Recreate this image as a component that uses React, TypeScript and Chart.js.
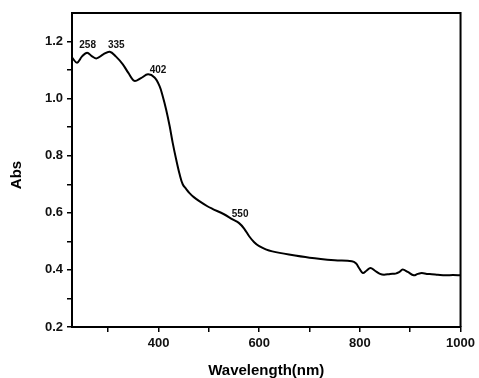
import React, { useEffect, useRef } from 'react';
import { Chart, registerables } from 'chart.js';

Chart.register(...registerables);

const wavelengths = [
  228, 238, 248, 258, 268, 277, 290, 303, 315, 329, 340, 352, 365, 379, 392, 402, 408, 415, 422, 428,
  435, 442, 448, 455, 461, 470, 481, 497, 507, 530, 547, 560, 570, 580, 590, 600, 613, 626, 659, 700,
  750, 784, 792, 799, 806, 813, 821, 830, 840, 848, 860, 871, 878, 885, 895, 907, 915, 923, 933, 943,
  955, 970, 985, 1000,
];
const absorbance = [
  1.144, 1.126, 1.148, 1.161, 1.148, 1.141, 1.155, 1.164, 1.148, 1.12, 1.09, 1.062, 1.072, 1.085, 1.074, 1.044, 1.01, 0.962, 0.904, 0.846,
  0.787, 0.734, 0.7, 0.683, 0.67, 0.655, 0.641, 0.623, 0.614, 0.595, 0.577, 0.564, 0.545, 0.518, 0.497, 0.483, 0.472, 0.465, 0.454, 0.443,
  0.434, 0.43, 0.423, 0.405, 0.389, 0.397, 0.407, 0.397, 0.386, 0.383, 0.386, 0.387, 0.392, 0.401, 0.393, 0.381, 0.386, 0.389, 0.386, 0.385,
  0.383, 0.381, 0.382, 0.381,
];

const xTickValues = [300, 400, 500, 600, 700, 800, 900, 1000];
const xLabelValues = [400, 600, 800, 1000];
const yTickValues = [0.2, 0.3, 0.4, 0.5, 0.6, 0.7, 0.8, 0.9, 1.0, 1.1, 1.2];
const yLabelValues = [0.2, 0.4, 0.6, 0.8, 1.0, 1.2];

const peakLabels = ['258', '335', '402', '550'];
const peakLabelX = [259, 316, 399, 562];
const peakLabelY = [1.187, 1.187, 1.1, 0.594];

const xTitle = 'Wavelength(nm)';
const yTitle = 'Abs';

const FONT = '"Liberation Sans", Arial, sans-serif';

export default function App() {
  const ref = useRef<HTMLCanvasElement | null>(null);

  useEffect(() => {
    if (!ref.current) return;
    const decor = {
      id: 'decor',
      afterDraw(chart: any) {
        const { ctx, chartArea } = chart;
        const { left, right, top, bottom } = chartArea;
        ctx.save();
        ctx.strokeStyle = '#000';
        ctx.lineWidth = 2;
        ctx.beginPath();
        ctx.moveTo(left, top);
        ctx.lineTo(right, top);
        ctx.lineTo(right, bottom);
        ctx.stroke();

        const xs = chart.scales.x;
        const ys = chart.scales.y;
        ctx.fillStyle = '#111';
        ctx.font = `bold 10px ${FONT}`;
        ctx.textAlign = 'center';
        ctx.textBaseline = 'middle';
        peakLabels.forEach((t, i) => {
          ctx.fillText(t, xs.getPixelForValue(peakLabelX[i]), ys.getPixelForValue(peakLabelY[i]));
        });

        ctx.fillStyle = '#000';
        ctx.font = `bold 15px ${FONT}`;
        ctx.fillText(xTitle, (left + right) / 2, 371);
        ctx.save();
        ctx.translate(17, (top + bottom) / 2 + 5);
        ctx.rotate(-Math.PI / 2);
        ctx.fillText(yTitle, 0, 0);
        ctx.restore();
        ctx.restore();
      },
    };

    const chart = new Chart(ref.current, {
      type: 'line',
      data: {
        datasets: [
          {
            data: wavelengths.map((w, i) => ({ x: w, y: absorbance[i] })),
            borderColor: '#000',
            borderWidth: 2,
            pointRadius: 0,
            tension: 0.35,
            fill: false,
          },
        ],
      },
      options: {
        animation: false,
        responsive: false,
        events: [],
        layout: { padding: { left: 0, right: 16, top: 13, bottom: 0 } },
        plugins: { legend: { display: false }, tooltip: { enabled: false } },
        scales: {
          x: {
            type: 'linear',
            min: 228,
            max: 1000,
            afterBuildTicks: (s: any) => {
              s.ticks = xTickValues.map((v) => ({ value: v }));
            },
            afterFit: (s: any) => {
              s.height = 51;
            },
            ticks: {
              autoSkip: false,
              maxRotation: 0,
              padding: 4,
              color: '#111',
              font: { family: FONT, size: 13, weight: 'bold' },
              callback: (v: any) => (xLabelValues.includes(v) ? String(v) : ''),
            },
            grid: {
              display: true,
              drawOnChartArea: false,
              drawTicks: true,
              tickLength: 5,
              color: '#000',
              lineWidth: 1.5,
            },
            border: { display: true, color: '#000', width: 2 },
          },
          y: {
            type: 'linear',
            min: 0.2,
            max: 1.3,
            afterBuildTicks: (s: any) => {
              s.ticks = yTickValues.map((v) => ({ value: v }));
            },
            afterFit: (s: any) => {
              s.width = 72;
            },
            ticks: {
              autoSkip: false,
              padding: 4,
              color: '#111',
              font: { family: FONT, size: 13, weight: 'bold' },
              callback: (v: any) => (yLabelValues.includes(v) ? Number(v).toFixed(1) : ''),
            },
            grid: {
              display: true,
              drawOnChartArea: false,
              drawTicks: true,
              tickLength: 5,
              color: '#000',
              lineWidth: 1.5,
            },
            border: { display: true, color: '#000', width: 2 },
          },
        },
      },
      plugins: [decor],
    } as any);
    return () => chart.destroy();
  }, []);

  return (
    <div style={{ position: 'fixed', left: 0, top: 0, width: 479, height: 378, background: '#fff' }}>
      <canvas ref={ref} width={479} height={378} />
    </div>
  );
}
